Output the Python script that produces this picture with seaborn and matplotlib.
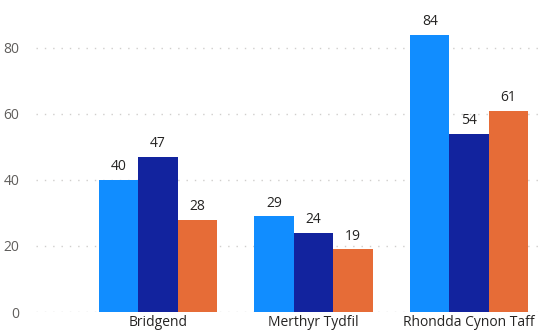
import seaborn as sns
import pandas as pd
import matplotlib.pyplot as plt

areas = ['Bridgend', 'Merthyr Tydfil', 'Rhondda Cynon Taff']
series = ['Series 1', 'Series 2', 'Series 3']
values_1 = [40, 29, 84]
values_2 = [47, 24, 54]
values_3 = [28, 19, 61]
colors = ['#118DFF', '#12239E', '#E66C37']

df = pd.DataFrame({
    'area': areas * 3,
    'series': [series[0]] * 3 + [series[1]] * 3 + [series[2]] * 3,
    'value': values_1 + values_2 + values_3,
})

sns.set_style('white')
plt.rcParams['font.family'] = ['Open Sans', 'DejaVu Sans']

fig = plt.figure(figsize=(5.4, 3.35), dpi=100)
ax = fig.add_axes([36 / 540, 23 / 335, 1 - 36 / 540, 312 / 335])

sns.barplot(data=df, x='area', y='value', hue='series', palette=colors,
            width=0.76, saturation=1, legend=False, linewidth=0, ax=ax)

for c in ax.containers:
    ax.bar_label(c, padding=4, fontsize=10, color='#252423')

ax.set_xlim(-0.785, 2.456)
ax.set_ylim(0, 94.5)
ax.set_yticks([0, 20, 40, 60, 80])
ax.yaxis.grid(True, linestyle=(0, (1, 5)), color='#D0CECC', linewidth=1)
ax.set_axisbelow(True)
ax.set_xlabel('')
ax.set_ylabel('')
ax.tick_params(axis='both', length=0, labelsize=10, colors='#605E5C')
ax.tick_params(axis='y', pad=12)
ax.tick_params(axis='x', pad=2)
for lbl in ax.get_xticklabels():
    lbl.set_color('#252423')
sns.despine(ax=ax, left=True, bottom=True)

fig.savefig('out.png', dpi=100)
